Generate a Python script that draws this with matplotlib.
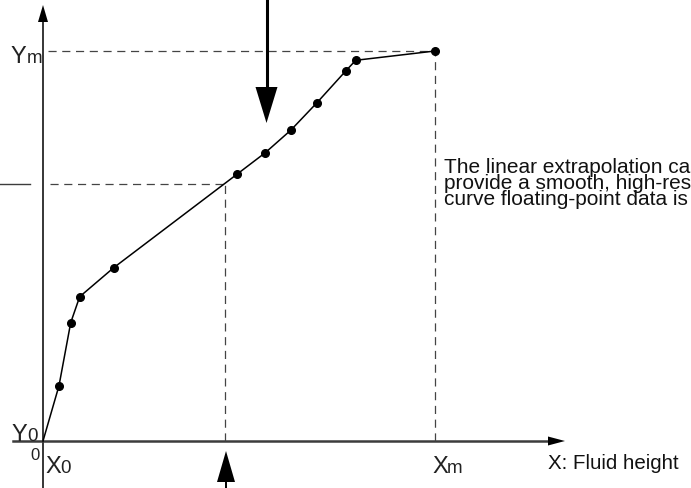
import numpy as np
import matplotlib.pyplot as plt

plt.rcParams['font.family'] = ['Liberation Sans', 'DejaVu Sans']

# calibration curve points (x: fluid height, y: output), origin at (0, 0)
x_pts = [0, 16, 27.7, 36.7, 70.7, 194.3, 222.3, 248, 273.7, 302.7, 312.7, 392]
y_pts = [0, 55.3, 118.3, 144.3, 173.3, 267, 288.3, 311, 338, 370, 380.7, 390]

x_m, y_m = 392, 390          # last calibration point
x_q, y_q = 182, 257.5        # point being looked up

note_lines = ['The linear extrapolation can',
              'provide a smooth, high-resolution',
              'curve floating-point data is used']

fig = plt.figure(figsize=(6.91, 4.88), dpi=100)
ax = fig.add_axes([0, 0, 1, 1])
ax.set_xlim(-43, 648)
ax.set_ylim(-47, 441)
ax.axis('off')

axis_col = '#3c3c3c'
dash_col = '#444444'


def head(tip, direction, length, half):
    tx, ty = tip
    dx, dy = direction
    bx, by = tx - dx * length, ty - dy * length
    px, py = -dy * half, dx * half
    ax.fill([tx, bx + px, bx - px], [ty, by + py, by - py], color='black', lw=0, zorder=5)


# axes
ax.plot([0, 0], [-47, 420], color='black', lw=1.1)
head((0, 436), (0, 1), 17, 5)
ax.plot([-30, 506], [0, 0], color=axis_col, lw=1.8)
head((522, 0), (1, 0), 17, 4.5)

# short tick on the left
ax.plot([-43, -13], [257, 257], color=axis_col, lw=1)

# dashed guides
dash = dict(color=dash_col, lw=0.9, dashes=(6.5, 4.5))
ax.plot([5, x_m], [y_m, y_m], **dash)
ax.plot([x_m, x_m], [0, y_m], **dash)
ax.plot([7, x_q], [y_q, y_q], **dash)
ax.plot([x_q, x_q], [0, y_q], **dash)

# curve and points
ax.plot(x_pts, y_pts, color='black', lw=1.1, zorder=3)
ax.plot(x_pts[1:], y_pts[1:], 'o', color='black', ms=5.5, zorder=4)

# big arrow from top
ax.plot([223.5, 223.5], [441, 350], color='black', lw=2.2)
head((223.5, 318), (0, -1), 36, 11)

# arrow from bottom
ax.plot([x_q + 1, x_q + 1], [-47, -38], color='black', lw=1.4)
head((x_q + 1, -10), (0, 1), 31, 9)

# axis labels
big, small = 17, 13.5
ax.text(-33, 378, 'Y', fontsize=big, va='baseline', color='#222222')
ax.text(-16, 378, 'm', fontsize=small, va='baseline', color='#222222')
ax.text(-32, 0, 'Y', fontsize=big, va='baseline', color='#222222')
ax.text(-16, 0, '0', fontsize=small, va='baseline', color='#222222')
ax.text(2, -32, 'X', fontsize=big, va='baseline', color='#222222')
ax.text(17, -32, '0', fontsize=small, va='baseline', color='#222222')
ax.text(389, -32, 'X', fontsize=big, va='baseline', color='#222222')
ax.text(404, -32, 'm', fontsize=small, va='baseline', color='#222222')
ax.text(-13, -19, '0', fontsize=12, va='baseline', color='#222222')
ax.text(505, -28, 'X: Fluid height', fontsize=14.8, va='baseline', color='#111111')

# note text runs off the right edge, as in the original
ax.text(401, 235.7, '\n'.join(note_lines), fontsize=15, va='baseline',
        linespacing=0.8, color='#111111')

fig.savefig('out.png', dpi=100)
